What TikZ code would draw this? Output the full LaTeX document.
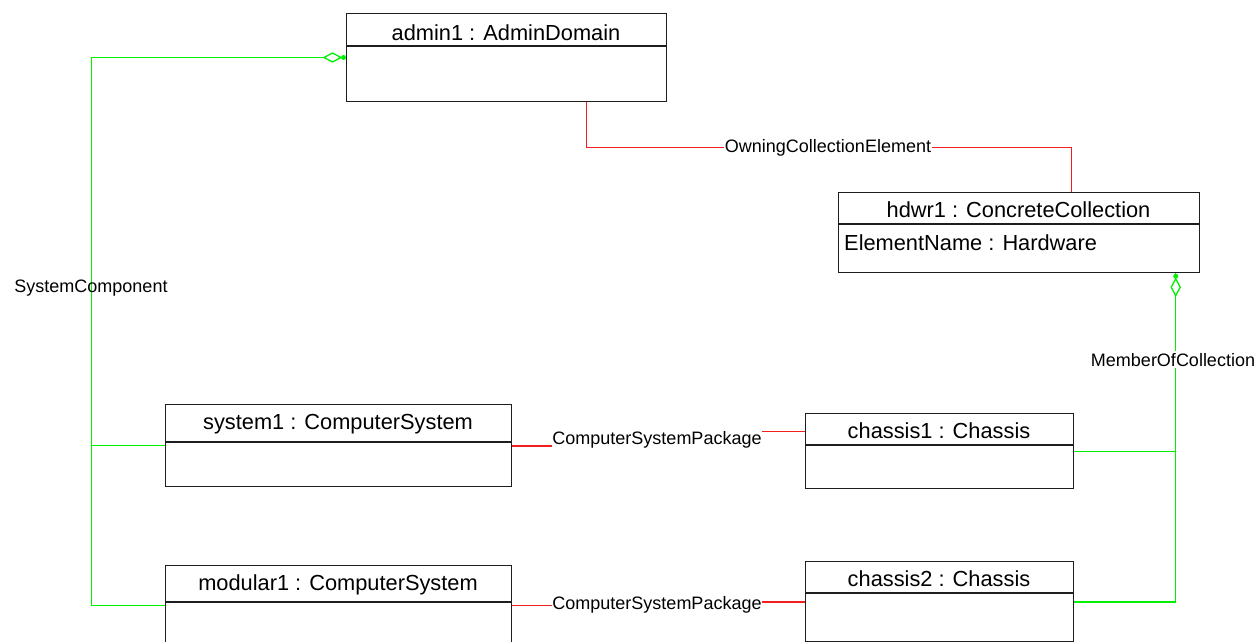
\documentclass[tikz,border=0pt]{standalone}
\usepackage{fontspec}
\setmainfont{Liberation Sans}
\usetikzlibrary{calc}
\definecolor{lgreen}{RGB}{0,240,0}
\definecolor{lred}{RGB}{245,30,30}
\definecolor{boxline}{RGB}{30,30,30}
\begin{document}
\begin{tikzpicture}[x=1pt,y=-1pt,
  umlbox/.style={draw=boxline, line width=1.2pt, anchor=north west, inner sep=0pt},
  divider/.style={draw=boxline, line width=1.1pt},
  ttl/.style={font=\fontsize{21.8}{26}\selectfont, inner sep=0pt, anchor=base},
  attr/.style={font=\fontsize{21.8}{26}\selectfont, inner sep=0pt, anchor=base west},
  lbl/.style={font=\fontsize{18}{22}\selectfont, inner sep=0pt, anchor=base},
  lblfill/.style={lbl, fill=white, inner xsep=1pt, inner ysep=2pt},
  grn/.style={draw=lgreen, line width=1.3pt},
  rd/.style={draw=lred, line width=1.3pt},
  aggdia/.style={draw=lgreen, line width=1.3pt, fill=white},
  aggdot/.style={fill=lgreen}
]
\useasboundingbox (0,0) rectangle (1257,641);

% ---------- boxes ----------
\node[umlbox, minimum width=320pt, minimum height=88pt] (admin) at (346,13) {};
\draw[divider] ($(admin.north west)+(0,33)$) -- ($(admin.north east)+(0,33)$);
\node[ttl] (adminT) at (506,40) {admin1 : AdminDomain};

\node[umlbox, minimum width=361pt, minimum height=80pt] (hdwr) at (838,192) {};
\draw[divider] ($(hdwr.north west)+(0,32)$) -- ($(hdwr.north east)+(0,32)$);
\node[ttl] (hdwrT) at (1018.5,217) {hdwr1 : ConcreteCollection};
\node[attr] (hdwrA) at (844,250) {ElementName : Hardware};

\node[umlbox, minimum width=346pt, minimum height=82pt] (sys1) at (165,404) {};
\draw[divider] ($(sys1.north west)+(0,38)$) -- ($(sys1.north east)+(0,38)$);
\node[ttl] (sys1T) at (338,429) {system1 : ComputerSystem};

\node[umlbox, minimum width=346pt, minimum height=82pt] (mod1) at (165,565) {};
\draw[divider] ($(mod1.north west)+(0,37)$) -- ($(mod1.north east)+(0,37)$);
\node[ttl] (mod1T) at (338,590) {modular1 : ComputerSystem};

\node[umlbox, minimum width=268pt, minimum height=75pt] (ch1) at (805,413) {};
\draw[divider] ($(ch1.north west)+(0,32)$) -- ($(ch1.north east)+(0,32)$);
\node[ttl] (ch1T) at (939,438) {chassis1 : Chassis};

\node[umlbox, minimum width=268pt, minimum height=80pt] (ch2) at (805,561) {};
\draw[divider] ($(ch2.north west)+(0,32)$) -- ($(ch2.north east)+(0,32)$);
\node[ttl] (ch2T) at (939,586) {chassis2 : Chassis};

% ---------- SystemComponent ----------
\coordinate (scTop) at (91.5,57.5);
\coordinate (scS1) at (91.5,445.5);
\coordinate (scM1) at (91.5,605.5);
\draw[grn] (scM1) -- (scTop) -- (admin.west |- scTop);
\draw[grn] (scS1) -- (sys1.west |- scS1);
\draw[grn] (scM1) -- (sys1.west |- scM1);
\path[aggdia] ($(admin.west |- scTop)+(-5,0)$) -- ++(-8.5,-4.5) -- ++(-8.5,4.5) -- ++(8.5,4.5) -- cycle;
\fill[aggdot] ($(admin.west |- scTop)+(-2.5,0)$) circle[radius=2.5pt];
\node[lbl] (scL) at (91,292.5) {SystemComponent};

% ---------- OwningCollectionElement ----------
\coordinate (ocA) at ($(admin.south west)+(240.5,0)$);
\coordinate (ocB) at ($(ocA)+(0,45.5)$);
\coordinate (ocD) at ($(hdwr.north west)+(233.5,0)$);
\coordinate (ocC) at (ocD |- ocB);
\draw[rd] (ocA) -- (ocB) -- (ocC) -- (ocD);
\node[lblfill] (ocL) at (828,152.5) {OwningCollectionElement};

% ---------- MemberOfCollection ----------
\coordinate (mcTop) at ($(hdwr.south east)+(-24.5,0)$);
\coordinate (mcC1) at ($(mcTop |- ch1.east)+(0,0.5)$);
\coordinate (mcC2) at ($(mcTop |- ch2.east)+(0,0.5)$);
\draw[grn] (ch2.east |- mcC2) -- (mcC2) -- (mcTop);
\draw[grn] (ch1.east |- mcC1) -- (mcC1);
\path[aggdia] ($(mcTop)+(0,5.5)$) -- ++(-4.5,8.5) -- ++(4.5,8.5) -- ++(4.5,-8.5) -- cycle;
\fill[aggdot] ($(mcTop)+(0,3)$) circle[radius=2.5pt];
\node[lblfill] (mcL) at (1173,366) {MemberOfCollection};

% ---------- ComputerSystemPackage ----------
\node[lbl] (csp1) at (657,444) {ComputerSystemPackage};
\coordinate (s1p) at ($(sys1.east)+(0,0.5)$);
\draw[rd] (s1p) -- (csp1.west |- s1p);
\coordinate (ch1p) at ($(ch1.north west)+(0,18.5)$);
\draw[rd] (csp1.east |- ch1p) -- (ch1p);

\node[lbl] (csp2) at (657,609.5) {ComputerSystemPackage};
\coordinate (m1p) at (sys1.east |- scM1);
\draw[rd] (m1p) -- (csp2.west |- m1p);
\draw[rd] (csp2.east |- mcC2) -- (ch2.west |- mcC2);
\end{tikzpicture}
\end{document}
